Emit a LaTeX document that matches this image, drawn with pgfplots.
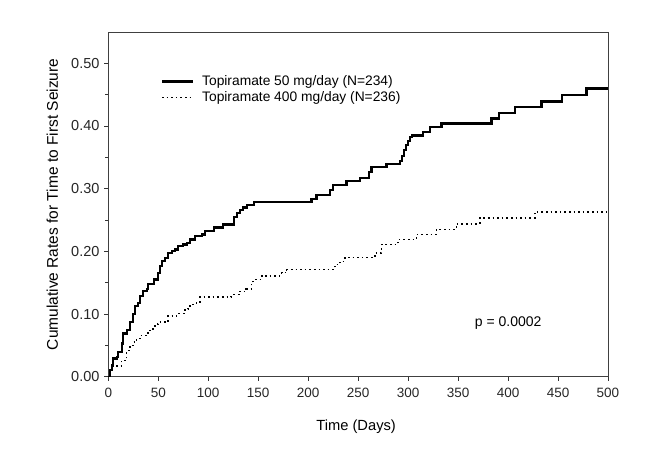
\documentclass[border=0pt]{standalone}
\usepackage{pgfplots}
\pgfplotsset{compat=1.18}
\usepackage{fontspec}
\setmainfont{Liberation Sans}
\begin{document}
\fontsize{14}{16}\selectfont
\begin{tikzpicture}
\begin{axis}[
  scale only axis,
  width=499.7pt, height=344.7pt,
  xmin=0, xmax=500, ymin=0, ymax=0.55,
  xtick={0,50,...,500},
  ytick={0,0.1,0.2,0.3,0.4,0.5},
  minor ytick={0.05,0.15,0.25,0.35,0.45},
  yticklabel style={/pgf/number format/fixed, /pgf/number format/fixed zerofill, /pgf/number format/precision=2},
  /pgf/number format/assume math mode=true,
  tick align=outside,
  xtick pos=bottom, ytick pos=left,
  major tick length=4pt, minor tick length=3pt,
  tick style={black!80, line width=0.6pt},
  axis line style={black!75, line width=0.7pt},
  xticklabel style={font=\fontsize{13.5}{16}\selectfont, text=black!85, yshift=-3pt},
  yticklabel style={font=\fontsize{14.5}{16}\selectfont, text=black!85},
  xlabel={Time (Days)},
  ylabel={Cumulative Rates for Time to First Seizure},
  xlabel style={font=\fontsize{14.7}{16}\selectfont, at={(axis description cs:0.496,-0.146)}, anchor=center},
  ylabel style={font=\fontsize{15.5}{17}\selectfont, at={(axis description cs:-0.112,0.5)}, anchor=center},
  legend style={at={(axis description cs:0.099,0.886)}, anchor=north west, draw=none, fill=none,
    font=\fontsize{13.8}{16}\selectfont, row sep=0pt,
    /tikz/every odd column/.append style={column sep=6pt}},
  legend cell align=left,
  legend image code/.code={\draw[#1] (0pt,0pt) -- (31pt,0pt);},
]
\addplot[const plot, black, line width=2.2pt] coordinates {
(0,0) (1.7,0.011) (3.4,0.018) (5,0.029) (8.4,0.032) (10,0.039) (13.4,0.053)
(15,0.069) (18.4,0.074) (21.7,0.087) (25,0.100) (26.7,0.113) (30,0.118)
(31.7,0.129) (35,0.137) (38.4,0.140) (40,0.148) (46,0.155) (50,0.165)
(52,0.176) (54,0.184) (56.7,0.190) (60,0.197) (63.4,0.200) (66.7,0.203)
(70,0.208) (75,0.211) (78.4,0.213) (81.7,0.219) (86.7,0.224) (93.4,0.227)
(96.7,0.232) (106,0.238) (115,0.243) (126,0.255) (128.4,0.261) (131.7,0.266)
(135,0.270) (138.4,0.274) (146,0.279) (203.4,0.284) (208.4,0.290)
(221.7,0.298) (225,0.306) (238.4,0.312) (251.7,0.317) (261,0.326)
(263.4,0.334) (278.4,0.340) (291.7,0.344) (293.5,0.352) (295.5,0.362)
(297.5,0.370) (300,0.376) (302,0.382) (304,0.385) (314.7,0.391)
(321.7,0.399) (333.4,0.404) (383.4,0.412) (391,0.421) (406.7,0.430)
(433.4,0.439) (454,0.449) (478.4,0.460) (500,0.460)
};
\addlegendentry{Topiramate 50 mg/day (N=234)}
\addplot[const plot, black, line width=1.6pt, dash pattern=on 1.6pt off 3pt] coordinates {
(0,0) (1.7,0.008) (3.4,0.017) (13.4,0.026) (18.4,0.042) (21.7,0.050)
(25,0.055) (28.4,0.061) (31.7,0.066) (40,0.074) (45,0.079) (46.7,0.084)
(50,0.087) (60,0.097) (68.4,0.101) (76.7,0.108) (80,0.113) (85,0.117)
(88.4,0.119) (91.7,0.127) (123,0.131) (131,0.136) (138,0.140)
(143.4,0.150) (145,0.155) (153.4,0.161) (173.4,0.166) (178.4,0.171)
(226.7,0.179) (231.7,0.184) (236.7,0.190) (266.7,0.197) (273.4,0.211)
(290,0.219) (308.4,0.227) (328.4,0.235) (348.4,0.244) (371.7,0.253)
(426.7,0.263) (498,0.263)
};
\addlegendentry{Topiramate 400 mg/day (N=236)}
\node[anchor=west, font=\fontsize{14}{16}\selectfont] at (axis cs:362,0.085) {p = 0.0002};
\end{axis}
\path ([shift={(-108.3pt,-75.3pt)}]current axis.south west) rectangle ++(665pt,452pt);
\end{tikzpicture}
\end{document}
